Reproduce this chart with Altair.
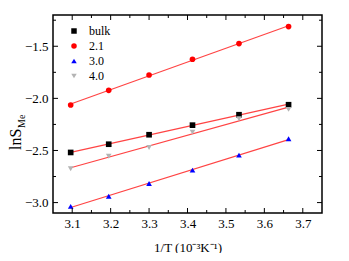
import altair as alt
import pandas as pd

x_vals = [3.096, 3.195, 3.300, 3.413, 3.534, 3.663]
bulk = [-2.519, -2.440, -2.349, -2.257, -2.157, -2.061]
s21 = [-2.064, -1.923, -1.776, -1.625, -1.474, -1.311]
s30 = [-3.036, -2.939, -2.817, -2.689, -2.545, -2.388]
s40 = [-2.676, -2.555, -2.471, -2.324, -2.195, -2.106]
series_names = ["bulk", "2.1", "3.0", "4.0"]
series_colors = ["#000000", "#ff0000", "#0000ff", "#b4b4b4"]
series_shapes = ["square", "circle", "triangle-up", "triangle-down"]

x_major = [3.1, 3.2, 3.3, 3.4, 3.5, 3.6, 3.7]
x_minor = [3.15, 3.25, 3.35, 3.45, 3.55, 3.65]
y_major = [-3.0, -2.5, -2.0, -1.5]
y_minor = [-2.75, -2.25, -1.75, -1.25]

rows = []
for name, vals in zip(series_names, [bulk, s21, s30, s40]):
    for xv, yv in zip(x_vals, vals):
        rows.append({"x": xv, "y": yv, "s": name})
df = pd.DataFrame(rows)

W, H = 269, 198
FONT = "Liberation Serif"
xs = alt.Scale(domain=[3.05, 3.75], nice=False, zero=False)
ys = alt.Scale(domain=[-3.1, -1.2], nice=False, zero=False)

x_axis = alt.Axis(
    values=x_major, format=".1f", ticks=False, domain=False, grid=False,
    labelFont=FONT, labelFontSize=13, labelColor="black", labelPadding=4,
    title="1/T (10⁻³K⁻¹)", titleFont=FONT, titleFontSize=13,
    titleFontWeight="normal", titleColor="black", titlePadding=11)
y_axis = alt.Axis(
    values=y_major, format=".1f", ticks=False, domain=False, grid=False,
    labelFont=FONT, labelFontSize=13, labelColor="black", labelPadding=5,
    title="")

base = alt.Chart(df)

lines = base.transform_regression("x", "y", groupby=["s"]).mark_line(
    color="#ff4444", strokeWidth=1.2
).encode(
    x=alt.X("x:Q", scale=xs, axis=x_axis),
    y=alt.Y("y:Q", scale=ys, axis=y_axis),
    detail="s:N",
)

points = base.mark_point(filled=True, size=32, opacity=1).encode(
    x=alt.X("x:Q", scale=xs, axis=x_axis),
    y=alt.Y("y:Q", scale=ys, axis=y_axis),
    color=alt.Color("s:N", scale=alt.Scale(domain=series_names, range=series_colors),
                    legend=alt.Legend(orient="none", legendX=15, legendY=10, title=None,
                                      labelFont=FONT, labelFontSize=12, labelColor="black",
                                      symbolSize=30, rowPadding=3, symbolOpacity=1,
                                      labelOffset=9)),
    shape=alt.Shape("s:N", scale=alt.Scale(domain=series_names, range=series_shapes)),
)

xmaj = pd.DataFrame({"x": x_major})
xmin = pd.DataFrame({"x": x_minor})
ymaj = pd.DataFrame({"y": y_major})
ymin = pd.DataFrame({"y": y_minor})

tick_layers = []
for d, ln in [(xmaj, 5), (xmin, 3)]:
    tick_layers.append(alt.Chart(d).mark_rule(color="black", strokeWidth=1).encode(
        x=alt.X("x:Q", scale=xs, axis=x_axis), y=alt.value(H), y2=alt.value(H - ln)))
    tick_layers.append(alt.Chart(d).mark_rule(color="black", strokeWidth=1).encode(
        x=alt.X("x:Q", scale=xs, axis=x_axis), y=alt.value(0), y2=alt.value(ln)))
for d, ln in [(ymaj, 5), (ymin, 3)]:
    tick_layers.append(alt.Chart(d).mark_rule(color="black", strokeWidth=1).encode(
        y=alt.Y("y:Q", scale=ys, axis=y_axis), x=alt.value(0), x2=alt.value(ln)))
    tick_layers.append(alt.Chart(d).mark_rule(color="black", strokeWidth=1).encode(
        y=alt.Y("y:Q", scale=ys, axis=y_axis), x=alt.value(W), x2=alt.value(W - ln)))

ytitle_main = alt.Chart(pd.DataFrame({"t": ["lnS"]})).mark_text(
    font=FONT, fontSize=16, angle=270, align="left", baseline="middle", color="black"
).encode(text="t:N", x=alt.value(-37), y=alt.value(135))
ytitle_sub = alt.Chart(pd.DataFrame({"t": ["Me"]})).mark_text(
    font=FONT, fontSize=10, angle=270, align="left", baseline="middle", color="black"
).encode(text="t:N", x=alt.value(-31), y=alt.value(113))

chart = alt.layer(lines, points, *tick_layers, ytitle_main, ytitle_sub).properties(
    width=W, height=H,
    autosize=alt.AutoSizeParams(type="none"),
    padding={"left": 45, "top": 7, "right": 10, "bottom": 40},
).configure_view(stroke="black", strokeWidth=1.5)

chart.save("out.html", embed_options={"renderer": "svg", "actions": False})
